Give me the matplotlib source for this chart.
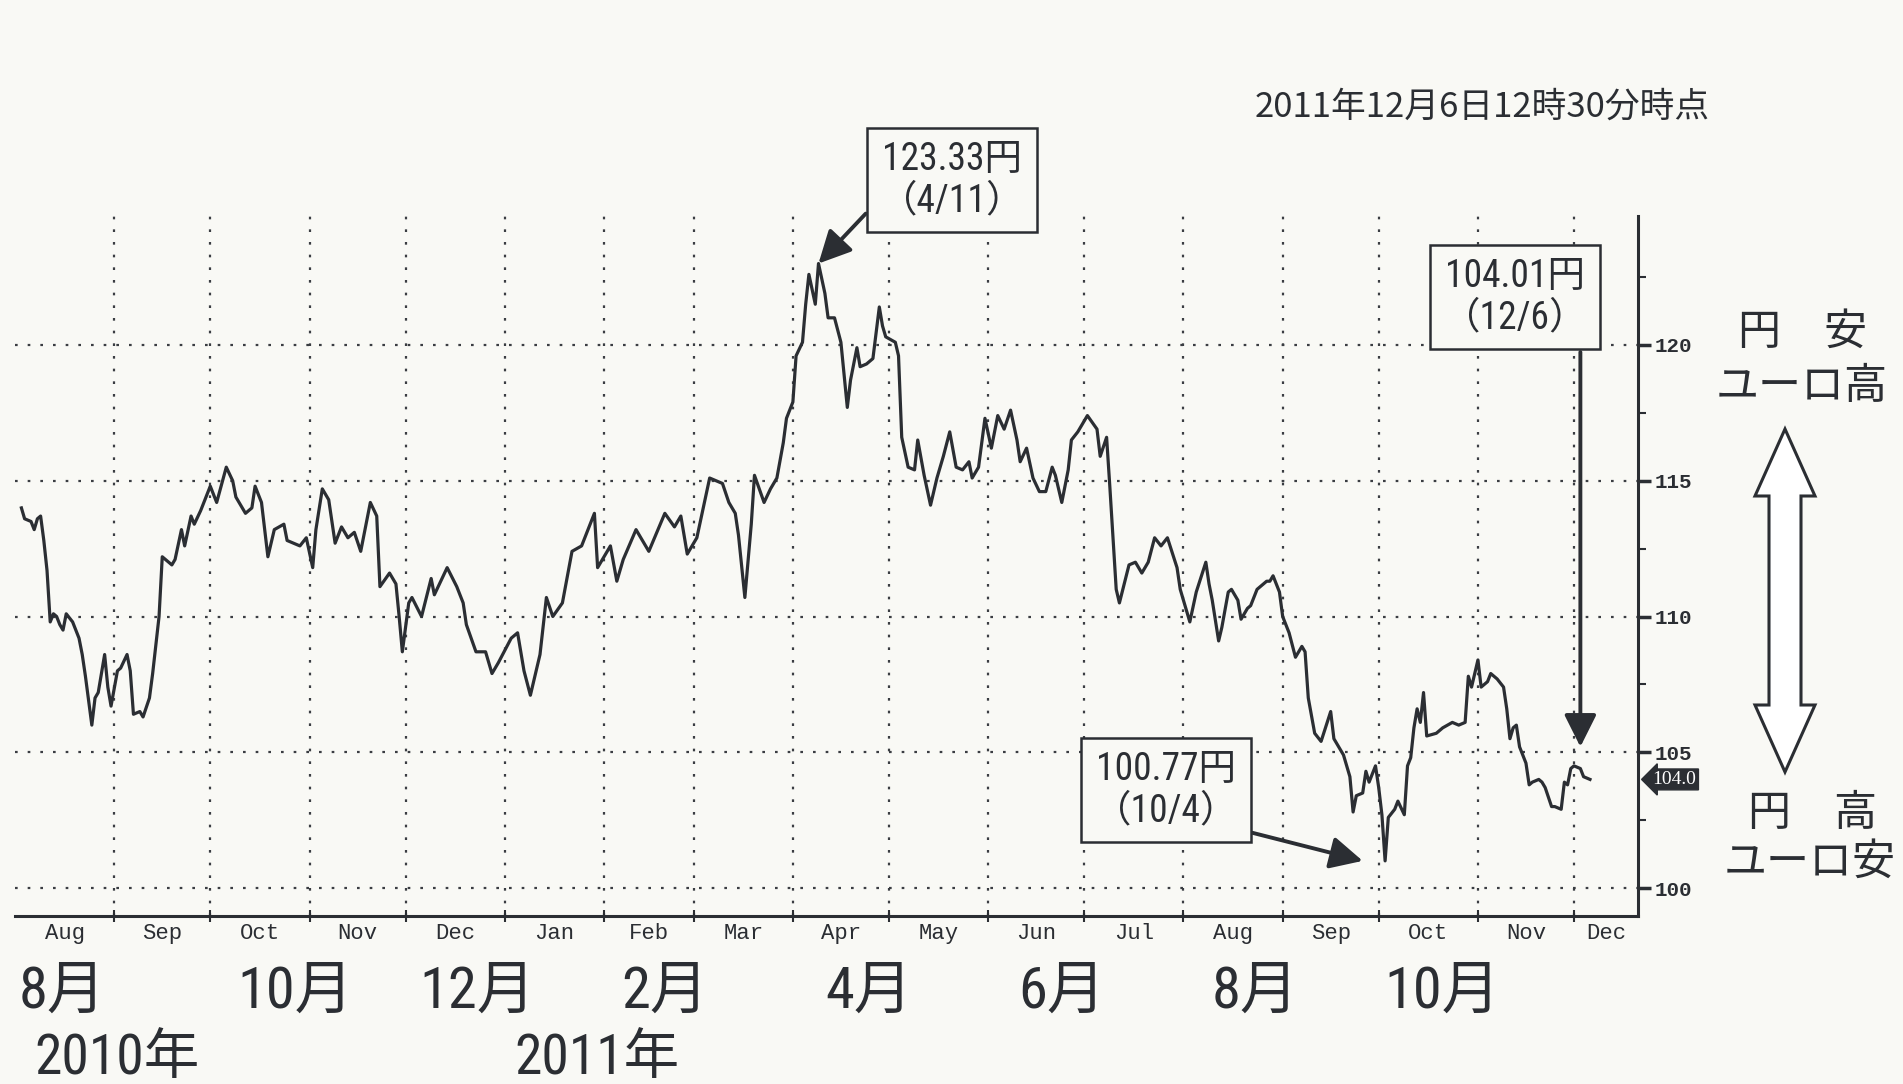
import numpy as np
import matplotlib
matplotlib.use("Agg")
import matplotlib.pyplot as plt
import matplotlib.dates as mdates
from matplotlib import font_manager
from matplotlib.patches import Polygon

# EUR/JPY, days counted from 2010-08-01
start = np.datetime64("2010-08-01")
days = [2, 3, 5, 6, 7, 8, 9, 10, 11, 12, 13, 14, 15, 16, 18, 20, 21, 22, 24, 25,
        26, 28, 29, 30, 32, 33, 35, 36, 37, 39, 40, 42, 43, 45, 46, 49, 50, 52, 53, 55,
        56, 58, 59, 61, 63, 66, 68, 69, 72, 74, 75, 77, 79, 81, 84, 85, 89, 91, 93, 94,
        96, 98, 100, 102, 104, 106, 108, 111, 113, 114, 117, 119, 120, 121, 123, 124, 127, 130, 131, 135,
        138, 140, 141, 144, 147, 149, 151, 155, 157, 159, 161, 164, 166, 168, 171, 174, 177, 181, 182, 186,
        188, 190, 194, 198, 203, 206, 208, 210, 213, 217, 221, 223, 225, 226, 228, 230, 231, 234, 236, 238,
        240, 241, 243, 244, 246, 247, 248, 250, 251, 253, 254, 256, 258, 260, 261, 263, 264, 266, 268, 270,
        271, 272, 275, 276, 277, 279, 281, 282, 284, 286, 288, 290, 292, 294, 296, 298, 299, 301, 303, 305,
        307, 309, 311, 313, 314, 316, 318, 320, 322, 324, 325, 327, 329, 330, 332, 335, 338, 339, 341, 342,
        344, 345, 348, 350, 352, 354, 356, 358, 360, 363, 364, 367, 369, 372, 373, 374, 376, 377, 379, 380,
        382, 383, 385, 386, 388, 391, 392, 393, 395, 396, 398, 400, 402, 403, 404, 406, 408, 411, 412, 415,
        417, 418, 419, 421, 422, 423, 425, 426, 427, 428, 429, 431, 432, 434, 435, 436, 437, 438, 439, 440,
        441, 444, 446, 449, 451, 453, 454, 455, 457, 458, 460, 461, 463, 465, 466, 467, 468, 469, 470, 472,
        473, 474, 476, 477, 478, 480, 481, 483, 484, 485, 486, 487, 489, 490, 492]
rate = [114.0, 113.6, 113.5, 113.2, 113.6, 113.7, 112.8, 111.7, 109.8, 110.1, 110.0, 109.7, 109.5, 110.1, 109.8, 109.2, 108.6, 107.8, 106.0, 107.0,
        107.2, 108.6, 107.4, 106.7, 108.0, 108.1, 108.6, 108.0, 106.4, 106.5, 106.3, 107.0, 107.9, 110.0, 112.2, 111.9, 112.1, 113.2, 112.6, 113.7,
        113.4, 113.9, 114.2, 114.8, 114.2, 115.5, 115.0, 114.4, 113.8, 114.0, 114.8, 114.2, 112.2, 113.2, 113.4, 112.8, 112.6, 112.9, 111.8, 113.2,
        114.7, 114.3, 112.7, 113.3, 112.9, 113.1, 112.4, 114.2, 113.7, 111.1, 111.6, 111.2, 110.0, 108.7, 110.5, 110.7, 110.0, 111.4, 110.8, 111.8,
        111.1, 110.5, 109.7, 108.7, 108.7, 107.9, 108.3, 109.2, 109.4, 108.0, 107.1, 108.6, 110.7, 110.0, 110.5, 112.4, 112.6, 113.8, 111.8, 112.6,
        111.3, 112.1, 113.2, 112.4, 113.8, 113.3, 113.7, 112.3, 112.9, 115.1, 114.9, 114.2, 113.8, 113.0, 110.7, 113.4, 115.2, 114.2, 114.7, 115.1,
        116.4, 117.3, 117.9, 119.6, 120.1, 121.5, 122.6, 121.5, 123.0, 121.9, 121.0, 121.0, 120.1, 117.7, 118.7, 119.9, 119.2, 119.3, 119.5, 121.4,
        120.7, 120.3, 120.1, 119.6, 116.6, 115.5, 115.4, 116.5, 115.2, 114.1, 115.1, 115.9, 116.8, 115.5, 115.4, 115.7, 115.1, 115.5, 117.3, 116.2,
        117.4, 116.9, 117.6, 116.5, 115.7, 116.2, 115.1, 114.6, 114.6, 115.5, 115.2, 114.2, 115.4, 116.5, 116.8, 117.4, 116.9, 115.9, 116.6, 114.8,
        111.0, 110.5, 111.9, 112.0, 111.6, 112.0, 112.9, 112.6, 112.9, 111.8, 111.0, 109.8, 110.9, 112.0, 111.2, 110.6, 109.1, 109.6, 110.9, 111.0,
        110.6, 109.9, 110.3, 110.4, 111.0, 111.3, 111.3, 111.5, 110.9, 110.0, 109.4, 108.5, 108.9, 108.7, 107.0, 105.7, 105.4, 106.5, 105.5, 104.9,
        104.1, 102.8, 103.4, 103.5, 104.3, 103.9, 104.5, 103.7, 102.7, 101.0, 102.6, 102.9, 103.2, 102.7, 104.5, 104.8, 105.9, 106.6, 106.1, 107.2,
        105.6, 105.7, 105.9, 106.1, 106.0, 106.1, 107.8, 107.4, 108.4, 107.4, 107.6, 107.9, 107.7, 107.4, 106.6, 105.5, 105.9, 106.0, 105.2, 104.6,
        103.8, 103.9, 104.0, 103.9, 103.7, 103.0, 103.0, 102.9, 103.9, 103.8, 104.4, 104.5, 104.4, 104.1, 104.0]

month_names = ["Aug", "Sep", "Oct", "Nov", "Dec", "Jan", "Feb", "Mar", "Apr",
               "May", "Jun", "Jul", "Aug", "Sep", "Oct", "Nov", "Dec"]
y_ticks = [100, 105, 110, 115, 120]
last_value = 104.0

big_months = ["8月", "10月", "12月", "2月", "4月", "6月", "8月", "10月"]
big_month_x = [62, 295, 477, 665, 869, 1062, 1255, 1442]   # pixel centres
years = ["2010年", "2011年"]
year_x = [117, 597]

W, H = 1903, 1084
ink = "#2b2e33"
bg = "#f9f9f5"

# pick a condensed latin face if one is installed, CJK glyphs come from Noto
installed = {f.name for f in font_manager.fontManager.ttflist}
cond = [n for n in ["Liberation Sans Narrow", "Roboto Condensed", "DejaVu Sans Condensed",
                    "Open Sans Condensed", "Noto Sans Condensed"] if n in installed]
narrow = cond[:1] + ["Noto Sans CJK JP", "DejaVu Sans"]
jp = ["Noto Sans CJK JP", "DejaVu Sans"]


def fx(px):
    return px / W


def fy(py):
    return 1 - py / H


fig = plt.figure(figsize=(W / 100, H / 100), dpi=100, facecolor=bg)
ax = fig.add_axes([fx(15), fy(916), fx(1638) - fx(15), fy(216) - fy(916)])
ax.set_facecolor(bg)

dates = start + np.array(days)
ax.plot(dates, rate, color=ink, lw=2.3, zorder=3)

xmin, xmax = np.datetime64("2010-08-01"), np.datetime64("2011-12-21")
ax.set_xlim(xmin, xmax)
ax.set_ylim(98.97, 124.75)

for s in ["left", "top"]:
    ax.spines[s].set_visible(False)
for s in ["right", "bottom"]:
    ax.spines[s].set_color(ink)
    ax.spines[s].set_linewidth(2.2)

# x axis: ticks at month starts, labels mid-month
months = np.arange(np.datetime64("2010-08"), np.datetime64("2012-01"), dtype="datetime64[M]")
mstart = months.astype("datetime64[D]")
mend = np.minimum((months + 1).astype("datetime64[D]"), xmax)
mid = [mdates.date2num(a) + (mdates.date2num(b) - mdates.date2num(a)) / 2 for a, b in zip(mstart, mend)]
ax.set_xticks([mdates.date2num(d) for d in mstart[1:]])
ax.set_xticklabels([])
ax.set_xticks(mid, minor=True)
ax.set_xticklabels(month_names, minor=True, fontfamily="Liberation Mono", fontsize=16, color=ink)
ax.tick_params(axis="x", which="major", direction="inout", length=9, width=1.5, color=ink)
ax.tick_params(axis="x", which="minor", length=0, pad=5)

# y axis on the right
ax.yaxis.tick_right()
ax.set_yticks(y_ticks)
ax.set_yticklabels([str(v) for v in y_ticks], fontfamily="Liberation Mono", fontsize=15,
                   fontweight="bold", color=ink)
ax.set_yticks(np.arange(102.5, 124, 5), minor=True)
ax.tick_params(axis="y", which="major", direction="out", length=9, width=2.5, color=ink, pad=3)
ax.tick_params(axis="y", which="minor", direction="out", length=6, width=1.5, color=ink)

ax.grid(which="major", axis="both", linestyle=(0, (1.2, 4.5)), color="#3a3d42", lw=1.6)

# current value marker
ax.text(1.009, last_value, "104.0", transform=ax.get_yaxis_transform(), ha="left", va="center",
        color="white", fontsize=14, fontfamily="Liberation Serif",
        bbox=dict(boxstyle="larrow,pad=0.1", fc=ink, ec=ink))

# annotation boxes
box = dict(boxstyle="square,pad=0.35", fc=bg, ec=ink, lw=1.8)
arrow = dict(arrowstyle="-|>,head_length=0.9,head_width=0.45", color=ink, lw=2.8,
             shrinkA=0, shrinkB=0, mutation_scale=22)
txt = dict(ha="center", va="center", fontsize=27, fontfamily=narrow, color=ink,
           linespacing=1.15, bbox=box, zorder=5)

ax.annotate("123.33円\n（4/11）", xy=(np.datetime64("2011-04-09"), 123.0), xycoords="data",
            xytext=(fx(952), fy(180)), textcoords="figure fraction",
            arrowprops=dict(arrow, relpos=(0, 0.26)), **txt)
ax.text(fx(1515), fy(297), "104.01円\n（12/6）", transform=fig.transFigure, **txt)
ax.annotate("", xy=(np.datetime64("2011-12-03"), 105.2), xycoords="data",
            xytext=(np.datetime64("2011-12-03"), 119.74), textcoords="data",
            arrowprops=arrow, zorder=4)
ax.annotate("100.77円\n（10/4）", xy=(np.datetime64("2011-09-26"), 101.0), xycoords="data",
            xytext=(fx(1166), fy(790)), textcoords="figure fraction",
            arrowprops=dict(arrow, relpos=(1, 0)), **txt)

fig.text(fx(1482), fy(107), "2011年12月6日12時30分時点", ha="center", va="center",
         fontsize=25, fontfamily=jp, color=ink)

# right-hand legend: yen weak / yen strong
fig.text(fx(1803), fy(333), "円　安", ha="center", va="center", fontsize=31, fontfamily=jp, color=ink)
fig.text(fx(1802), fy(387), "ユーロ高", ha="center", va="center", fontsize=31, fontfamily=jp, color=ink)
fig.text(fx(1812), fy(814), "円　高", ha="center", va="center", fontsize=31, fontfamily=jp, color=ink)
fig.text(fx(1810), fy(863), "ユーロ安", ha="center", va="center", fontsize=31, fontfamily=jp, color=ink)

cx, top, hb1, hb2, bot, hw, sw = 1785, 429, 496, 705, 772, 30, 16
pts = [(cx, top), (cx + hw, hb1), (cx + sw, hb1), (cx + sw, hb2), (cx + hw, hb2), (cx, bot),
       (cx - hw, hb2), (cx - sw, hb2), (cx - sw, hb1), (cx - hw, hb1)]
fig.patches.append(Polygon([(fx(a), fy(b)) for a, b in pts], closed=True, transform=fig.transFigure,
                           fc="white", ec=ink, lw=2.2))

# big hand-written month / year labels
big = 42 if cond else 38
for lab, x in zip(big_months, big_month_x):
    fig.text(fx(x), fy(992), lab, ha="center", va="center", fontsize=big, fontfamily=narrow, color=ink)
for lab, x in zip(years, year_x):
    fig.text(fx(x), fy(1059), lab, ha="center", va="center", fontsize=big - 2, fontfamily=narrow, color=ink)

fig.savefig("out.png", dpi=100, facecolor=bg)
